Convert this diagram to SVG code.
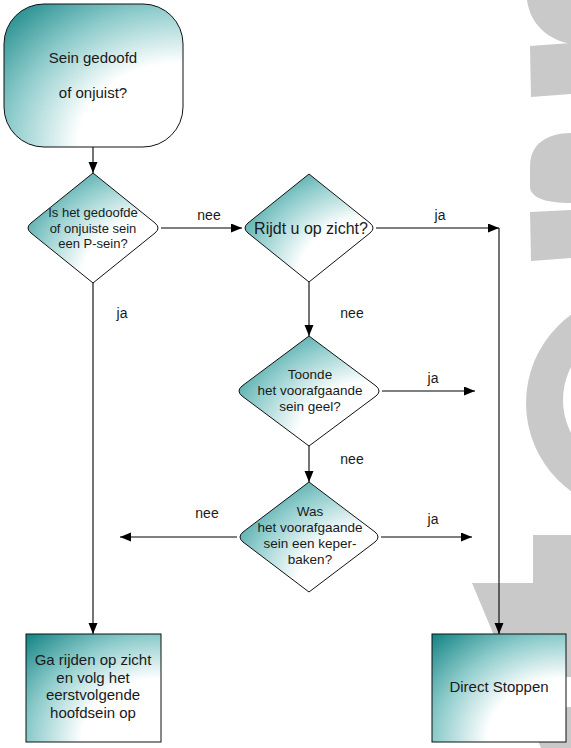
<svg xmlns="http://www.w3.org/2000/svg" width="571" height="748" viewBox="0 0 571 748">
<defs>
<radialGradient id="g" cx="1" cy="1" r="1.42" fx="0.97" fy="0.97">
<stop offset="0" stop-color="#ffffff"/>
<stop offset="0.4" stop-color="#ffffff"/>
<stop offset="0.68" stop-color="#8fcccc"/>
<stop offset="1" stop-color="#0f8181"/>
</radialGradient>
<marker id="arr" markerUnits="userSpaceOnUse" markerWidth="12" markerHeight="10" refX="11" refY="4.5" orient="auto">
<path d="M0,0 L11,4.5 L0,9 Z" fill="#000"/>
</marker>
</defs>
<style>
.wm{fill:#c9c9c9}
.shape{fill:url(#g);stroke:#111;stroke-width:1}
.t{font-family:"Liberation Sans",Arial,sans-serif;fill:#1a1a1a;text-anchor:middle}
.c{fill:none;stroke:#000;stroke-width:1.1}
.a{marker-end:url(#arr)}
</style>
<rect width="571" height="748" fill="#fff"/>
<g id="watermark">
<path class="wm" d="M527 0 H571 V44 C548 40 530 24 527 0 Z"/>
<path class="wm" d="M530 46 L571 43 L571 94 L531 97 Z"/>
<path class="wm" d="M571 133 C546 133 530 145 530 166 L530 188 C532 198 546 203 571 203 Z"/>
<path class="wm" d="M530 212 L571 210 L571 258 L531 261 Z"/>
<path class="wm" fill-rule="evenodd" d="M635 294 A109 109 0 1 0 635 512 A109 109 0 1 0 635 294 Z M635 328 A72 72 0 1 1 635 472 A72 72 0 1 1 635 328 Z"/>
<path class="wm" d="M533 535 H571 V677 H560 V707 H571 V748 H541 L472 583 H533 Z"/>
</g>
<g id="connectors">
<path class="c a" d="M93 147 V173"/>
<path class="c a" d="M161 228 H242"/>
<path class="c a" d="M376 228 H499"/>
<path class="c a" d="M499 228 V634"/>
<path class="c a" d="M309 282 V336"/>
<path class="c a" d="M382 391 H475"/>
<path class="c a" d="M309 446 V482"/>
<path class="c a" d="M237 537 H120"/>
<path class="c a" d="M381 537 H472"/>
<path class="c a" d="M93 283 V634"/>
<text class="t" x="209" y="220" font-size="14">nee</text>
<text class="t" x="440" y="220" font-size="14">ja</text>
<text class="t" x="122" y="318" font-size="14">ja</text>
<text class="t" x="352" y="318" font-size="14">nee</text>
<text class="t" x="433" y="383" font-size="14">ja</text>
<text class="t" x="352" y="464" font-size="14">nee</text>
<text class="t" x="207" y="518" font-size="14">nee</text>
<text class="t" x="433" y="524" font-size="14">ja</text>
</g>
<g id="start">
<rect class="shape" x="4" y="4" width="179" height="143" rx="40" ry="40"/>
<text class="t" x="93" y="63" font-size="15">Sein gedoofd</text>
<text class="t" x="93" y="98" font-size="15">of onjuist?</text>
</g>
<g id="q1">
<path class="shape" d="M93 173 L155 223 Q161 228 155 233 L93 283 L31 233 Q25 228 31 223 Z"/>
<text class="t" x="93" y="217" font-size="13">Is het gedoofde</text>
<text class="t" x="93" y="233" font-size="13">of onjuiste sein</text>
<text class="t" x="93" y="248" font-size="13">een P-sein?</text>
</g>
<g id="q2">
<path class="shape" d="M309 174 L370 223 Q376 228 370 233 L309 282 L248 233 Q242 228 248 223 Z"/>
<text class="t" x="311" y="234" font-size="16">Rijdt u op zicht?</text>
</g>
<g id="q3">
<path class="shape" d="M309 336 L376 386 Q382 391 376 396 L309 446 L242 396 Q236 391 242 386 Z"/>
<text class="t" x="310" y="379" font-size="13.5">Toonde</text>
<text class="t" x="310" y="395" font-size="13.5">het voorafgaande</text>
<text class="t" x="310" y="411" font-size="13.5">sein geel?</text>
</g>
<g id="q4">
<path class="shape" d="M309 482 L375 532 Q381 537 375 542 L309 592 L243 542 Q237 537 243 532 Z"/>
<text class="t" x="310" y="516" font-size="13.5">Was</text>
<text class="t" x="310" y="532" font-size="13.5">het voorafgaande</text>
<text class="t" x="310" y="548" font-size="13.5">sein een keper-</text>
<text class="t" x="310" y="564" font-size="13.5">baken?</text>
</g>
<g id="box-left">
<rect class="shape" x="26" y="634" width="135" height="108"/>
<text class="t" x="93" y="665" font-size="15">Ga rijden op zicht</text>
<text class="t" x="93" y="683" font-size="15">en volg het</text>
<text class="t" x="93" y="700" font-size="15">eerstvolgende</text>
<text class="t" x="93" y="718" font-size="15">hoofdsein op</text>
</g>
<g id="box-right">
<rect class="shape" x="432" y="634" width="134" height="108"/>
<text class="t" x="499" y="692" font-size="15">Direct Stoppen</text>
</g>
</svg>
